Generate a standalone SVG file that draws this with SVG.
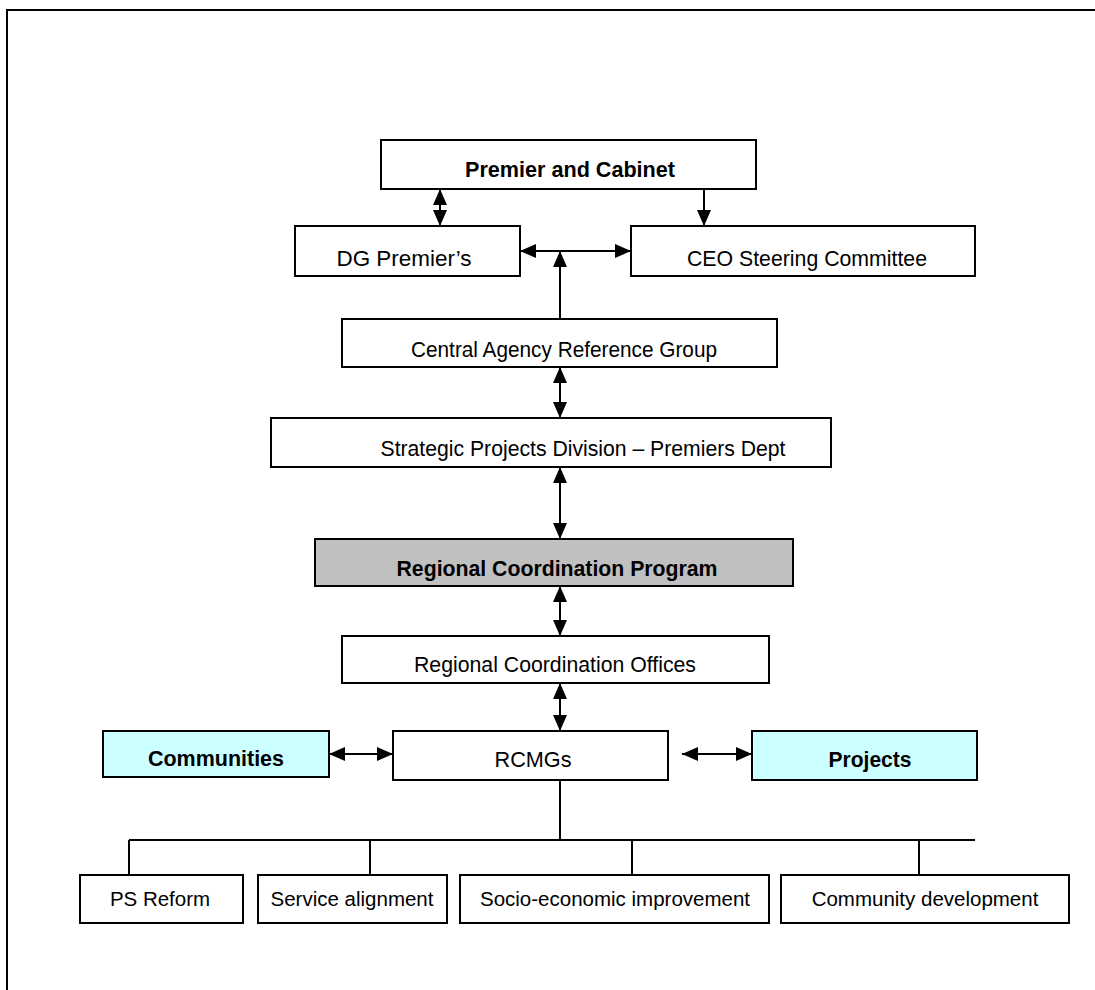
<svg xmlns="http://www.w3.org/2000/svg" width="1095" height="990" viewBox="0 0 1095 990">
<style>
.box{fill:#ffffff;stroke:#000;stroke-width:2}
.grey{fill:#c0c0c0;stroke:#000;stroke-width:2}
.cyan{fill:#ccffff;stroke:#000;stroke-width:2}
.t{font-family:"Liberation Sans",Arial,sans-serif;font-size:22px;text-anchor:middle;fill:#000}
.b{font-weight:bold}
.s{font-size:20.5px}
.ln{stroke:#000;stroke-width:2;fill:none}
.a2{marker-start:url(#ah);marker-end:url(#ah)}
.a1{marker-end:url(#ah)}
</style>
<defs>
<marker id="ah" markerUnits="userSpaceOnUse" markerWidth="16" markerHeight="14" viewBox="0 0 16 14" refX="16" refY="7" orient="auto-start-reverse">
<path d="M0,0 L16,7 L0,14 Z" fill="#000"/>
</marker>
</defs>
<rect width="1095" height="990" fill="#fff"/>
<g id="frame">
<path class="ln" d="M7,990 V10 H1095" stroke-width="2.5"/>
</g>
<g id="connectors">
<line class="ln a2" x1="440" y1="189" x2="440" y2="226"/>
<line class="ln a1" x1="704" y1="178" x2="704" y2="226"/>
<line class="ln a2" x1="520" y1="251" x2="631" y2="251"/>
<line class="ln a1" x1="560" y1="319" x2="560" y2="251"/>
<line class="ln a2" x1="560" y1="367" x2="560" y2="418"/>
<line class="ln a2" x1="560" y1="467" x2="560" y2="539"/>
<line class="ln a2" x1="560" y1="586" x2="560" y2="636"/>
<line class="ln a2" x1="560" y1="683" x2="560" y2="731"/>
<line class="ln a2" x1="329" y1="754" x2="393" y2="754"/>
<line class="ln a2" x1="682" y1="754" x2="752" y2="754"/>
<path class="ln" d="M560,778 V840 M129,840 H975 M129,840 V875 M370,840 V875 M632,840 V875 M919,840 V875" stroke-width="1.8"/>
</g>
<g id="premier"><rect class="box" x="381" y="140" width="375" height="49"/><text class="t b" x="570" y="177" textLength="210" lengthAdjust="spacingAndGlyphs">Premier and Cabinet</text></g>
<g id="dg"><rect class="box" x="295" y="226" width="225" height="50"/><text class="t" x="404" y="266" textLength="135" lengthAdjust="spacingAndGlyphs">DG Premier’s</text></g>
<g id="ceo"><rect class="box" x="631" y="226" width="344" height="50"/><text class="t" x="807" y="266" textLength="240" lengthAdjust="spacingAndGlyphs">CEO Steering Committee</text></g>
<g id="carg"><rect class="box" x="342" y="319" width="435" height="48"/><text class="t" x="564" y="357" textLength="306" lengthAdjust="spacingAndGlyphs">Central Agency Reference Group</text></g>
<g id="spd"><rect class="box" x="271" y="418" width="560" height="49"/><text class="t" x="583" y="456" textLength="405" lengthAdjust="spacingAndGlyphs">Strategic Projects Division – Premiers Dept</text></g>
<g id="rcp"><rect class="grey" x="315" y="539" width="478" height="47"/><text class="t b" x="557" y="576" textLength="321" lengthAdjust="spacingAndGlyphs">Regional Coordination Program</text></g>
<g id="rco"><rect class="box" x="342" y="636" width="427" height="47"/><text class="t" x="555" y="672" textLength="282" lengthAdjust="spacingAndGlyphs">Regional Coordination Offices</text></g>
<g id="rcmgs"><rect class="box" x="393" y="731" width="275" height="49"/><text class="t" x="533" y="767" textLength="77" lengthAdjust="spacingAndGlyphs">RCMGs</text></g>
<g id="communities"><rect class="cyan" x="103" y="731" width="226" height="46"/><text class="t b" x="216" y="766" textLength="136" lengthAdjust="spacingAndGlyphs">Communities</text></g>
<g id="projects"><rect class="cyan" x="752" y="731" width="225" height="49"/><text class="t b" x="870" y="767" textLength="83" lengthAdjust="spacingAndGlyphs">Projects</text></g>
<g id="psreform"><rect class="box" x="80" y="875" width="163" height="48"/><text class="t s" x="160" y="906">PS Reform</text></g>
<g id="service"><rect class="box" x="258" y="875" width="189" height="48"/><text class="t s" x="352" y="906">Service alignment</text></g>
<g id="socio"><rect class="box" x="460" y="875" width="309" height="48"/><text class="t s" x="615" y="906">Socio-economic improvement</text></g>
<g id="community"><rect class="box" x="781" y="875" width="288" height="48"/><text class="t s" x="925" y="906">Community development</text></g>
</svg>
